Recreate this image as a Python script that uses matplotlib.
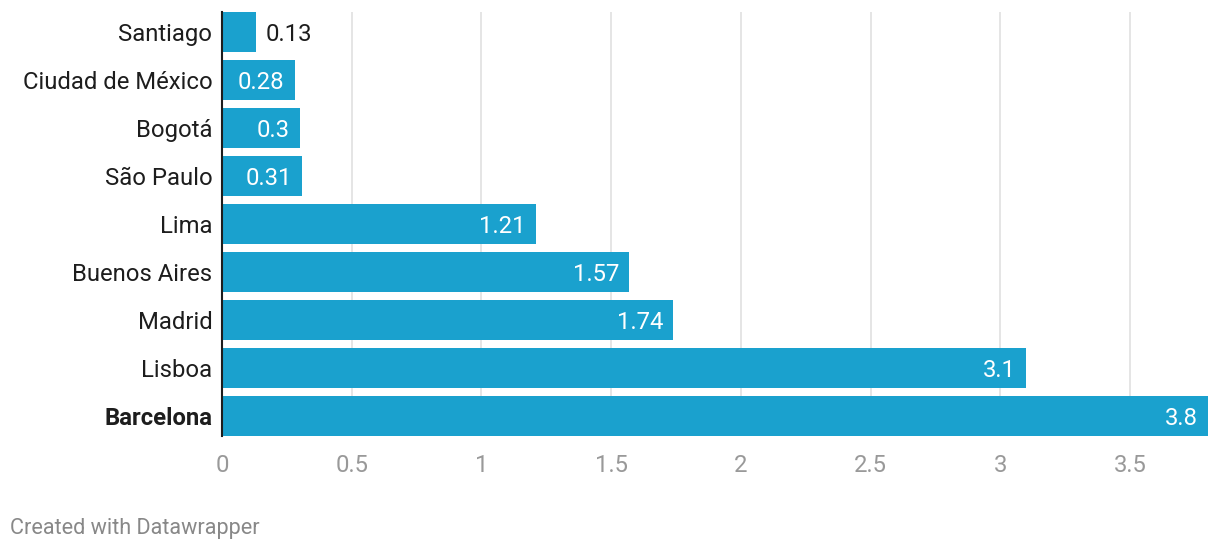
import matplotlib
matplotlib.use("Agg")
import matplotlib.pyplot as plt
from matplotlib import transforms

cities = ["Santiago", "Ciudad de México", "Bogotá", "São Paulo", "Lima",
          "Buenos Aires", "Madrid", "Lisboa", "Barcelona"]
values = [0.13, 0.28, 0.3, 0.31, 1.21, 1.57, 1.74, 3.1, 3.8]
labels = ["0.13", "0.28", "0.3", "0.31", "1.21", "1.57", "1.74", "3.1", "3.8"]
xticks = [0, 0.5, 1, 1.5, 2, 2.5, 3, 3.5]
xticklabels = ["0", "0.5", "1", "1.5", "2", "2.5", "3", "3.5"]
highlight = "Barcelona"

plt.rcParams['font.family'] = ['Roboto', 'DejaVu Sans']

fig = plt.figure(figsize=(12.2, 5.5), dpi=100)
ax = fig.add_axes([222/1220, 1-436/550, 986/1220, 424/550])

FS = 17.2
bar_color = "#1aa1ce"
h = 40/48
ypos = list(range(len(cities)))
ax.barh(ypos, values, height=h, color=bar_color, zorder=2)
ax.set_xlim(0, 3.8)
ax.set_ylim(len(cities) - 1 + h/2, -h/2)

ax.set_xticks(xticks)
ax.set_xticklabels(xticklabels)
ax.grid(axis='x', color='#e3e3e3', linewidth=1.3, zorder=0)
ax.set_axisbelow(True)
ax.tick_params(axis='x', length=0, pad=13, labelsize=FS, labelcolor='#999999')
ax.tick_params(axis='y', length=0, pad=7, labelsize=FS, labelcolor='#1d1d1d')
ax.set_yticks(ypos)
ax.set_yticklabels(cities)
for t in ax.get_yticklabels():
    if t.get_text() == highlight:
        t.set_fontweight('bold')
for s in ['top', 'right', 'bottom']:
    ax.spines[s].set_visible(False)
ax.spines['left'].set_color('#1d1d1d')
ax.spines['left'].set_linewidth(1.5)
ax.spines['left'].set_zorder(3)

for y, v, lab in zip(ypos, values, labels):
    if v < 0.2:
        tr = transforms.offset_copy(ax.transData, fig=fig, x=10, y=0, units='dots')
        ax.text(v, y, lab, transform=tr, ha='left', va='center_baseline',
                fontsize=FS, color='#1d1d1d', zorder=4)
    else:
        tr = transforms.offset_copy(ax.transData, fig=fig, x=-10, y=0, units='dots')
        ax.text(v, y, lab, transform=tr, ha='right', va='center_baseline',
                fontsize=FS, color='white', zorder=4)

fig.text(10/1220, 1-526/550, "Created with Datawrapper", fontsize=15.6,
         color='#888888', ha='left', va='center_baseline')

fig.savefig("out.png", dpi=100)
